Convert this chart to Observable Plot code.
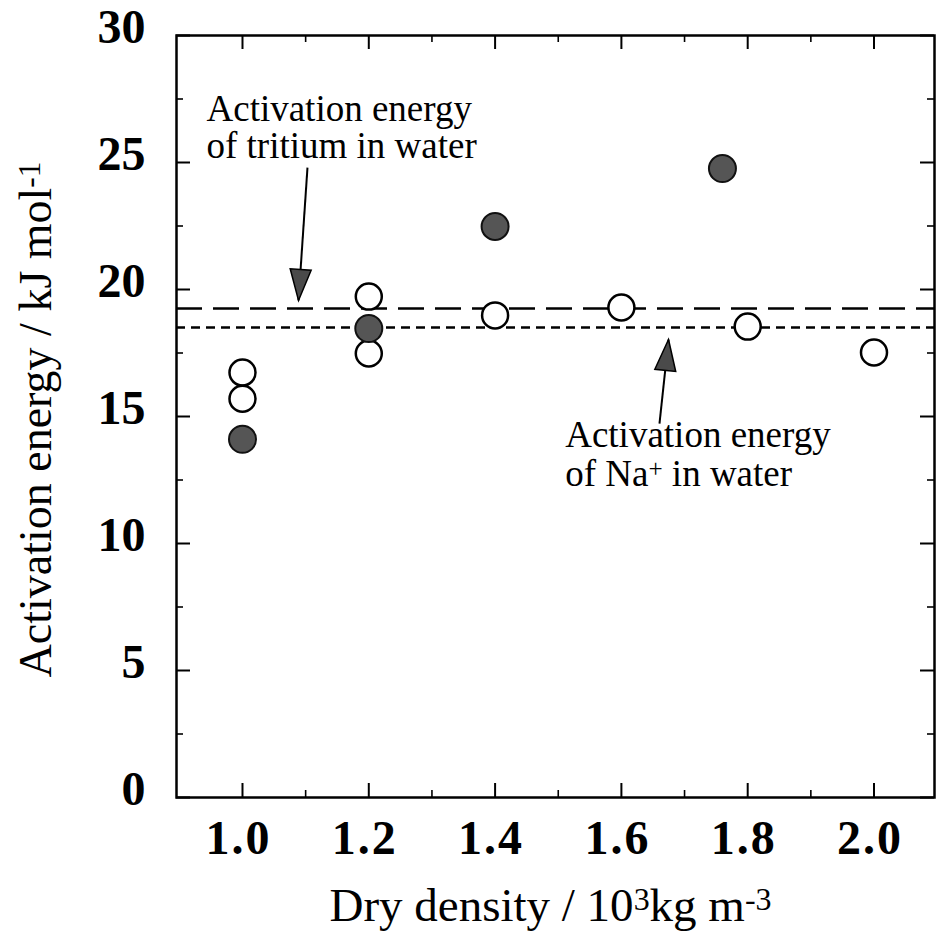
<!DOCTYPE html>
<html><head><meta charset="utf-8">
<script src="https://cdn.jsdelivr.net/npm/d3@7"></script>
<script src="https://cdn.jsdelivr.net/npm/@observablehq/plot@0.6"></script>
<style>html,body{margin:0;padding:0;background:#fff;}</style>
</head><body><div id="chart"></div>
<script>
// ---- data ----
const openX   = [1.0, 1.0, 1.2, 1.2, 1.4, 1.6, 1.8, 2.0];
const openY   = [16.73, 15.70, 19.72, 17.48, 18.98, 19.29, 18.54, 17.52];
const filledX = [1.0, 1.2, 1.4, 1.76];
const filledY = [14.10, 18.46, 22.48, 24.76];
const tritiumEa = 19.25;   // activation energy of tritium in water
const naEa = 18.5;         // activation energy of Na+ in water
const xTickValues = [1.0, 1.2, 1.4, 1.6, 1.8, 2.0];
const xMinorTicks = [1.1, 1.3, 1.5, 1.7, 1.9];
const yTickValues = [0, 5, 10, 15, 20, 25, 30];
const yMinorTicks = [2.5, 7.5, 12.5, 17.5, 22.5, 27.5];
const xTitle = "Dry density / 10^{3}kg m^{-3}";
const yTitle = "Activation energy / kJ mol^{-1}";
const noteLines = ["Activation energy", "of tritium in water", "Activation energy", "of Na^{+} in water"];
const noteX = [0.943, 0.943, 1.511, 1.511];
const noteY = [26.65, 25.16, 13.80, 12.28];
const arrowTipX  = [1.0887, 1.6746];
const arrowTipY  = [19.57, 18.03];
const arrowTailX = [1.1029, 1.6603];
const arrowTailY = [24.80, 14.72];
const arrowTurn  = [4, 186];

const openPts = openX.map((x, i) => ({x, y: openY[i]}));
const filledPts = filledX.map((x, i) => ({x, y: filledY[i]}));
const notes = noteLines.map((t, i) => ({t, x: noteX[i], y: noteY[i]}));
const arrows = arrowTipX.map((x, i) => ({x, y: arrowTipY[i], x0: arrowTailX[i], y0: arrowTailY[i], r: arrowTurn[i]}));

const W = 936, H = 932, ML = 176, MR = 2, MT = 35, MB = 135;
const FW = W - ML - MR, FH = H - MT - MB;
const MAJ = 14, MIN = 7;
const SERIF = "'Liberation Serif', 'Times New Roman', 'DejaVu Serif', serif";

const head = {draw(ctx, size) {
  const s = Math.sqrt(size / Math.PI);
  ctx.moveTo(0, 0); ctx.lineTo(-1.05 * s, -3.1 * s); ctx.lineTo(1.05 * s, -3.1 * s); ctx.closePath();
}};

const plot = Plot.plot({
  width: W, height: H,
  marginLeft: ML, marginRight: MR, marginTop: MT, marginBottom: MB,
  style: {fontFamily: SERIF, background: "#fff", color: "#000"},
  x: {domain: [0.8955, 2.0958], axis: null},
  y: {domain: [0, 30], axis: null},
  marks: [
    Plot.ruleY([tritiumEa], {stroke: "#000", strokeWidth: 2.5, strokeDasharray: "26,11"}),
    Plot.ruleY([naEa], {stroke: "#000", strokeWidth: 2.5, strokeDasharray: "9,6"}),
    Plot.link(arrows, {x1: "x0", y1: "y0", x2: "x", y2: "y", stroke: "#000", strokeWidth: 2}),
    Plot.dot(arrows, {x: "x", y: "y", symbol: head, r: 10, rotate: "r", fill: "#4a4a4a", stroke: "#000", strokeWidth: 1.5}),
    Plot.dot(openPts, {x: "x", y: "y", r: 13, fill: "#fff", stroke: "#000", strokeWidth: 2.5}),
    Plot.dot(filledPts, {x: "x", y: "y", r: 13.5, fill: "#555", stroke: "#111", strokeWidth: 2}),
    Plot.frame({stroke: "#000", strokeWidth: 2.5}),
    // inward ticks on all four sides
    Plot.tickX(xTickValues, {x: d => d, insetTop: FH - MAJ, strokeWidth: 2}),
    Plot.tickX(xTickValues, {x: d => d, insetBottom: FH - MAJ, strokeWidth: 2}),
    Plot.tickX(xMinorTicks, {x: d => d, insetTop: FH - MIN, strokeWidth: 1.6}),
    Plot.tickX(xMinorTicks, {x: d => d, insetBottom: FH - MIN, strokeWidth: 1.6}),
    Plot.tickY(yTickValues, {y: d => d, insetRight: FW - MAJ, strokeWidth: 2}),
    Plot.tickY(yTickValues, {y: d => d, insetLeft: FW - MAJ, strokeWidth: 2}),
    Plot.tickY(yMinorTicks, {y: d => d, insetRight: FW - MIN, strokeWidth: 1.6}),
    Plot.tickY(yMinorTicks, {y: d => d, insetLeft: FW - MIN, strokeWidth: 1.6}),
    Plot.axisX(xTickValues, {tickSize: 0, tickPadding: 22, fontSize: 48, fontWeight: "bold", fontFamily: SERIF, tickFormat: d => d.toFixed(1), dx: -4, label: null}),
    Plot.axisY(yTickValues, {tickSize: 0, tickPadding: 31, fontSize: 48, fontWeight: "bold", fontFamily: SERIF, dy: -8, label: null}),
    Plot.text([xTitle], {text: d => d, frameAnchor: "bottom", textAnchor: "middle", lineAnchor: "bottom", dy: 123, dx: -5, fontSize: 47, fontFamily: SERIF}),
    Plot.text([yTitle], {text: d => d, frameAnchor: "left", textAnchor: "middle", lineAnchor: "bottom", rotate: -90, dx: -126, dy: 3, fontSize: 46, fontFamily: SERIF}),
    Plot.text(notes, {x: "x", y: "y", text: "t", textAnchor: "start", lineAnchor: "bottom", fontSize: 37, fontFamily: SERIF})
  ]
});

// superscripts: turn ^{...} into raised tspans
d3.select(plot).selectAll("text").each(function() {
  const el = this;
  const targets = el.querySelectorAll("tspan").length ? Array.from(el.querySelectorAll("tspan")) : [el];
  for (const t of targets) {
    const s = t.textContent;
    if (!s.includes("^{")) continue;
    t.textContent = "";
    for (const p of s.split(/(\^\{[^}]*\})/)) {
      if (!p) continue;
      const sp = document.createElementNS("http://www.w3.org/2000/svg", "tspan");
      if (p.startsWith("^{")) {
        sp.textContent = p.slice(2, -1);
        sp.setAttribute("baseline-shift", "35%");
        sp.setAttribute("font-size", "68%");
      } else sp.textContent = p;
      t.appendChild(sp);
    }
  }
});
d3.select(plot).selectAll('g[aria-label="x-axis tick label"] text').style("letter-spacing", "2px");
document.getElementById("chart").appendChild(plot);
</script>
</body></html>
